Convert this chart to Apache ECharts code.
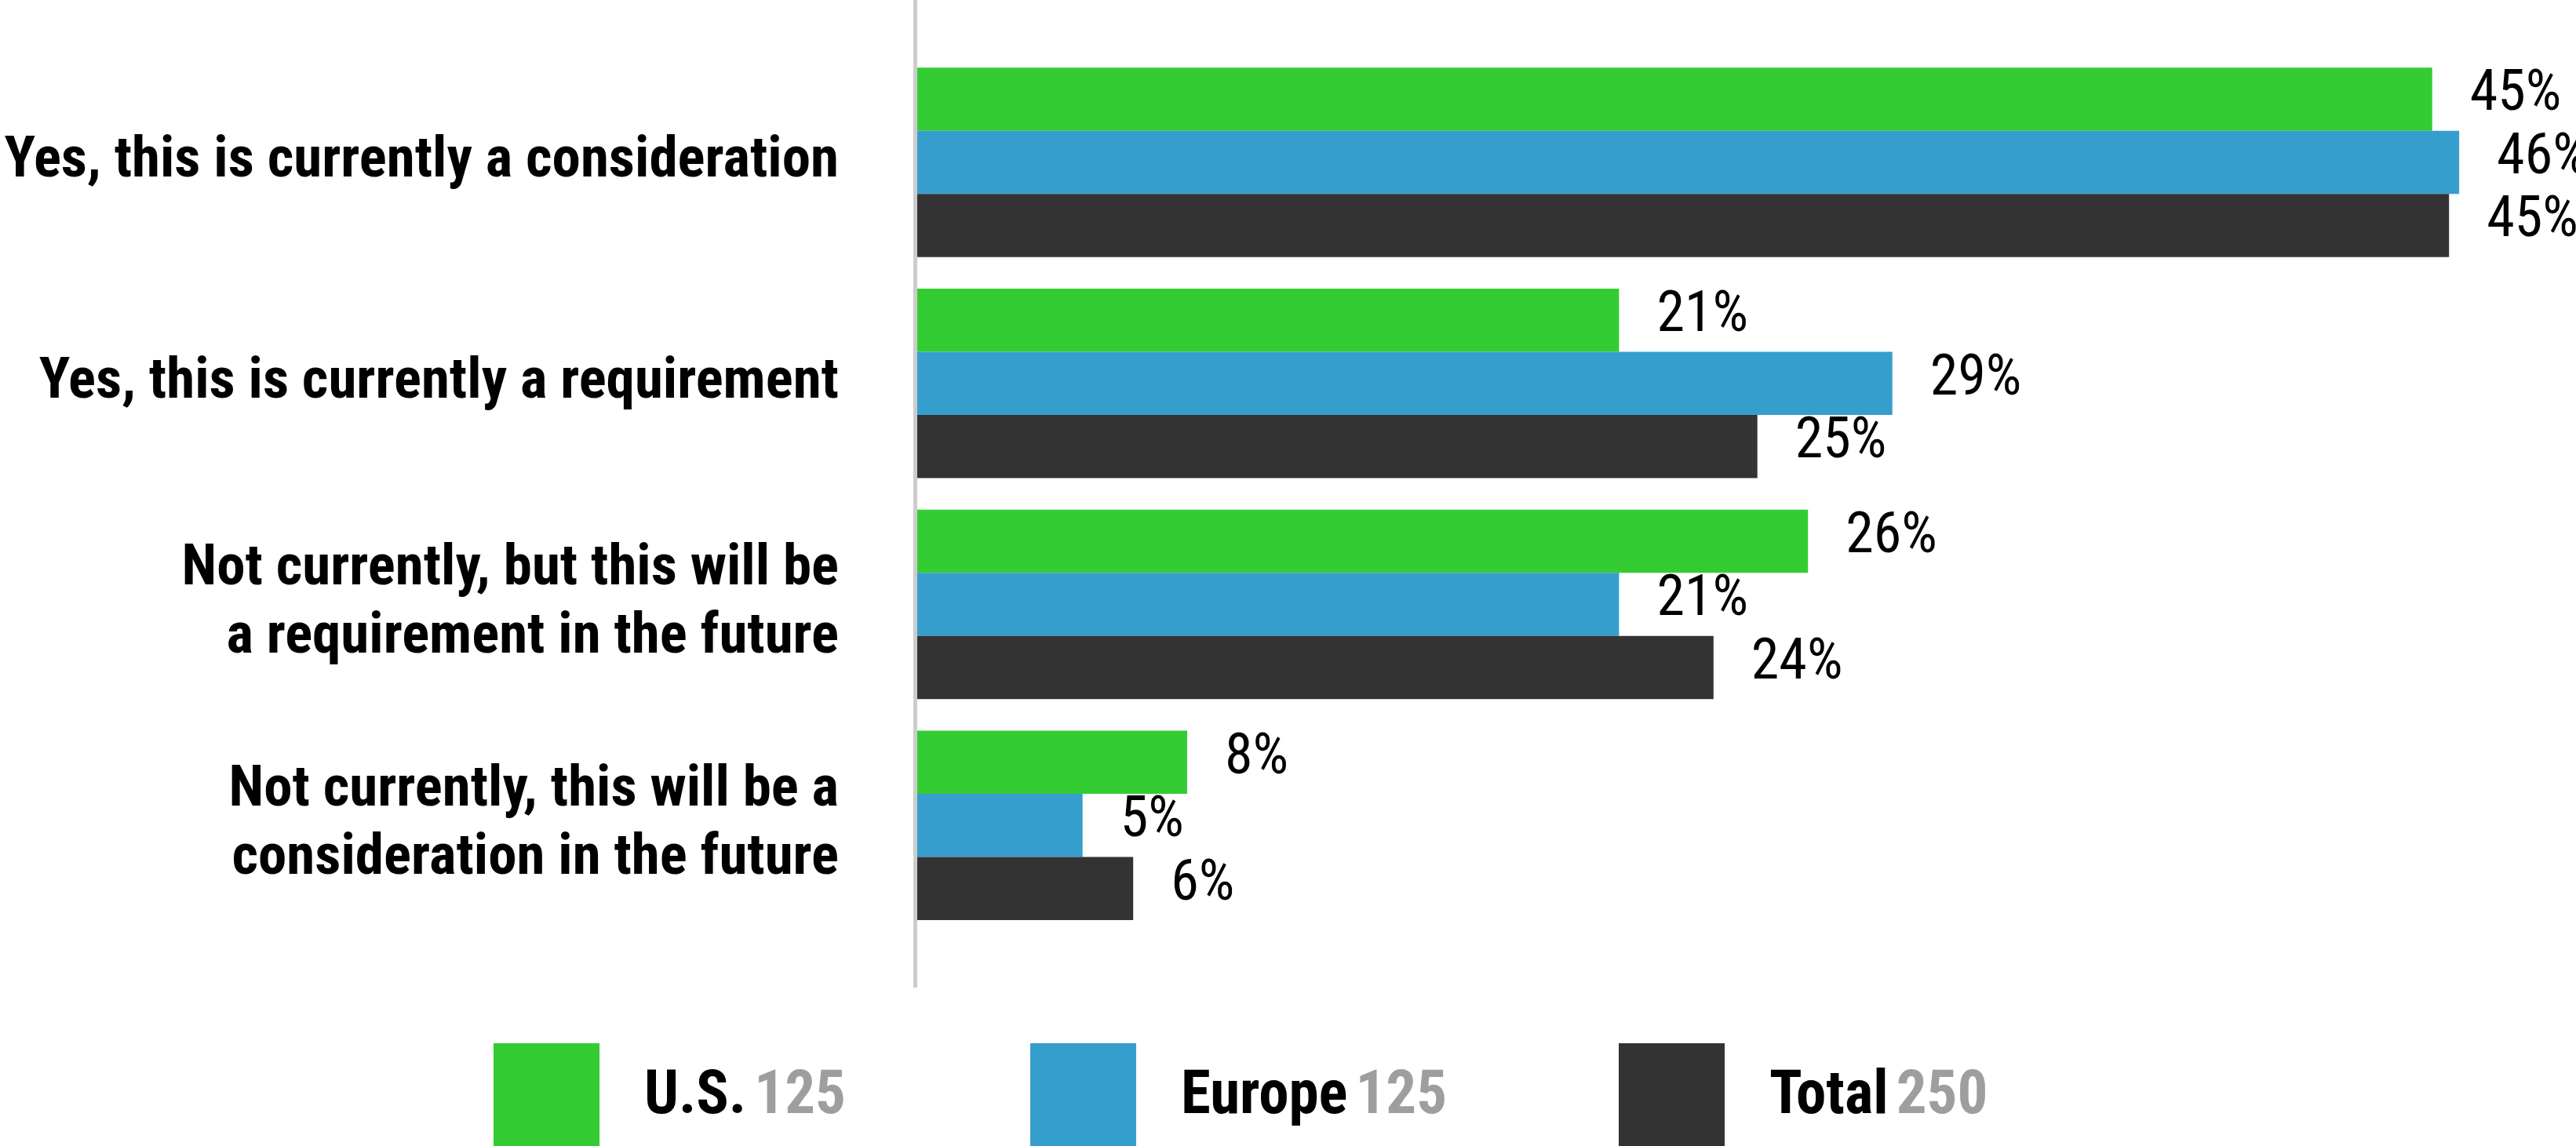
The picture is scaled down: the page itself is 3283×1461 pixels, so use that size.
<!DOCTYPE html>
<html>
<head>
<meta charset="utf-8">
<script src="https://cdn.jsdelivr.net/npm/echarts@6/dist/echarts.min.js"></script>
<style>
  html, body { margin: 0; padding: 0; background: #ffffff; }
  #chart { width: 3283px; height: 1461px; }
</style>
</head>
<body>
<div id="chart"></div>
<script>
// ---- data ----
const categories = [
  'Yes, this is currently a consideration',
  'Yes, this is currently a requirement',
  'Not currently, but this will be\na requirement in the future',
  'Not currently, this will be a\nconsideration in the future'
];
const seriesNames = ['U.S.', 'Europe', 'Total'];
const sampleSizes = ['125', '125', '250'];
const usValues     = [44.9, 20.8, 26.4, 8.0];
const europeValues = [45.7, 28.9, 20.8, 4.9];
const totalValues  = [45.4, 24.9, 23.6, 6.4];
const colors = ['#33cc33', '#369ecd', '#333333'];

const FONT = "'Roboto Condensed', 'Open Sans Condensed', sans-serif";

const chart = echarts.init(document.getElementById('chart'), null, { renderer: 'canvas' });

const valueSets = [usValues, europeValues, totalValues];
const series = seriesNames.map((name, i) => ({
  name: name,
  type: 'bar',
  data: valueSets[i],
  barWidth: 80.5,
  barGap: '0%',
  itemStyle: { color: colors[i] },
  label: {
    show: true,
    position: 'right',
    distance: 48,
    offset: [0, -4],
    formatter: p => Math.round(p.value) + '%',
    fontFamily: FONT,
    fontSize: 72,
    fontWeight: 'normal',
    color: '#000000'
  },
  emphasis: { disabled: true }
}));

const legendLefts = [629, 1313, 2063];
const legends = seriesNames.map((name, i) => ({
  data: [name],
  left: legendLefts[i],
  top: 1330,
  padding: 0,
  orient: 'horizontal',
  icon: 'rect',
  itemWidth: 135,
  itemHeight: 140,
  selectedMode: false,
  formatter: n => '{n|' + n + '}{v|' + sampleSizes[i] + '}',
  textStyle: {
    padding: [0, 0, 0, 52],
    rich: {
      n: { fontFamily: FONT, fontSize: 77, fontWeight: 'bold', color: '#000000' },
      v: { fontFamily: FONT, fontSize: 77, fontWeight: 'bold', color: '#9e9e9e', padding: [0, 0, 0, 10] }
    }
  }
}));

chart.setOption({
  animation: false,
  backgroundColor: '#ffffff',
  grid: { left: 1169, right: 7, top: 66, bottom: 268, containLabel: false, outerBoundsMode: 'none' },
  xAxis: {
    type: 'value', min: 0, max: 49, show: false
  },
  yAxis: {
    type: 'category',
    data: categories,
    inverse: true,
    axisLine: { show: false },
    axisTick: { show: false },
    splitLine: { show: false },
    axisLabel: {
      margin: 100,
      fontFamily: FONT,
      fontSize: 73,
      fontWeight: 'bold',
      color: '#000000',
      lineHeight: 87,
      align: 'right'
    }
  },
  legend: legends,
  graphic: [{
    type: 'rect',
    shape: { x: 1164, y: 0, width: 5, height: 1259 },
    style: { fill: '#cccccc' },
    silent: true
  }],
  series: series
});
</script>
</body>
</html>
